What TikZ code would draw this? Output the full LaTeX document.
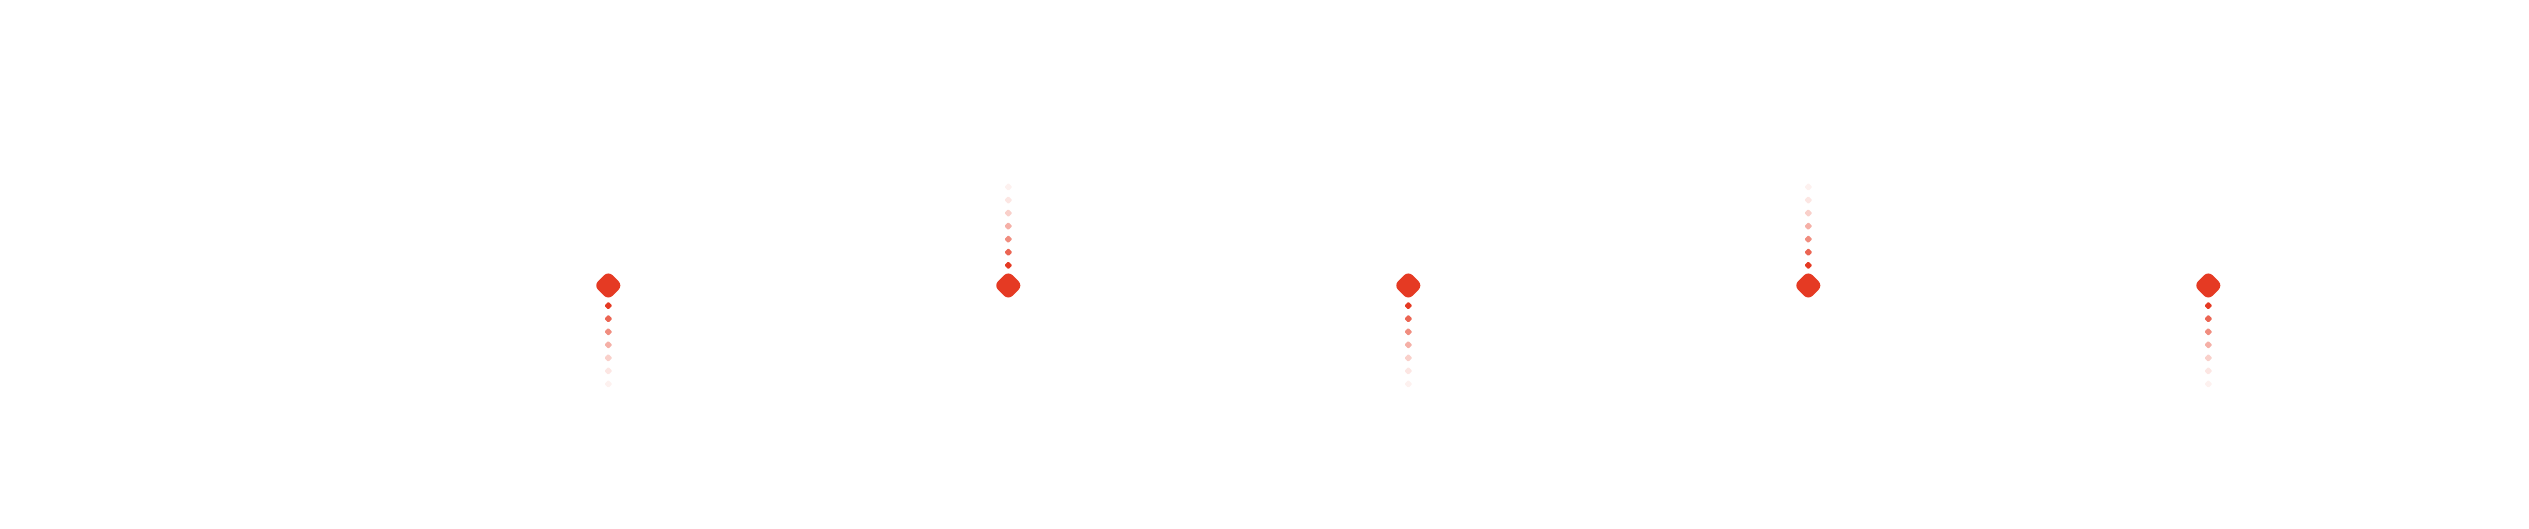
\documentclass[tikz,border=0pt]{standalone}
\usepackage{tikz}
\usetikzlibrary{calc}
\definecolor{cinnabar}{RGB}{229,58,35}

\begin{document}
\begin{tikzpicture}[x=1pt,y=1pt,
	bigmark/.style={fill=cinnabar, rectangle, rotate=45, rounded corners=6pt, minimum size=20.5pt, inner sep=0pt},
	smolmark/.style={fill=cinnabar, rectangle, rotate=45, rounded corners=1pt, minimum size=5.6pt, inner sep=0pt}]
	\def\gap{400}
	\def\dotstep{13.05}
	\def\midline{243.5}

	\useasboundingbox (0,0) rectangle (2529,529);

	% big marks, trails alternate down / up
	\foreach \k/\dir in {1/-1,2/1,3/-1,4/1,5/-1} {
		\node[bigmark] (m\k) at ({608.3+\gap*(\k-1)},\midline) {};
		\foreach \i/\op in {1/1,2/.78,3/.58,4/.4,5/.24,6/.13,7/.07}
			\node[smolmark, opacity=\op] (m\k-\i) at ($(m\k)+(0,{\dir*(20.2+\dotstep*(\i-1))})$) {};
	}
\end{tikzpicture}
\end{document}
